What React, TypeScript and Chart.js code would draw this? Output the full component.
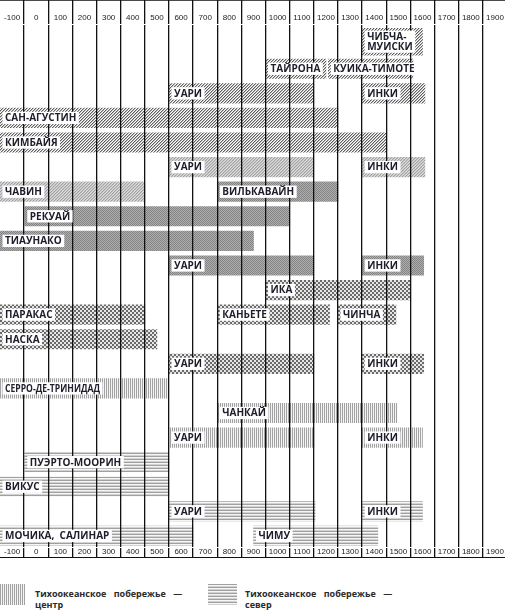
import React, { useEffect, useRef } from "react";
import { Chart, registerables } from "chart.js";

Chart.register(...registerables);

// ---- axis (centuries) ----
const AXIS_MIN = -100;
const AXIS_MAX = 2000;
const CENTURY = 100;

// ---- bars ----
const bandNames = [
  "ЧИБЧА-\nМУИСКИ", "ТАЙРОНА", "КУИКА-ТИМОТЕ", "УАРИ", "ИНКИ", "САН-АГУСТИН", "КИМБАЙЯ",
  "УАРИ", "ИНКИ", "ЧАВИН",
  "ВИЛЬКАВАЙН", "РЕКУАЙ", "ТИАУНАКО", "УАРИ", "ИНКИ",
  "ИКА", "ПАРАКАС", "КАНЬЕТЕ", "ЧИНЧА", "НАСКА", "УАРИ", "ИНКИ",
  "СЕРРО-ДЕ-ТРИНИДАД", "ЧАНКАЙ", "УАРИ", "ИНКИ",
  "ПУЭРТО-МООРИН", "ВИКУС", "УАРИ", "ИНКИ", "МОЧИКА,  САЛИНАР", "ЧИМУ",
];
const bandRows = [
  0.9, 2, 2, 3, 3, 4, 5,
  6, 6, 7,
  7, 8, 9, 10, 10,
  11, 12, 12, 12, 13, 14, 14,
  15, 16, 17, 17,
  18, 19, 20, 20, 21, 21,
];
const bandStarts = [
  1400, 1000, 1260, 600, 1400, -100, -100,
  600, 1400, -100,
  800, 0, -100, 600, 1400,
  1000, -100, 800, 1300, -100, 600, 1400,
  -100, 800, 600, 1400,
  0, -100, 600, 1400, -100, 950,
];
const bandEnds = [
  1650, 1250, 1610, 1200, 1660, 1300, 1500,
  1200, 1660, 500,
  1300, 1100, 950, 1200, 1655,
  1600, 500, 1265, 1540, 550, 1200, 1655,
  600, 1545, 1200, 1650,
  600, 600, 1205, 1650, 700, 1465,
];
const bandRegions = [
  "north", "north", "north", "north", "north", "north", "north",
  "highN", "highN", "highN",
  "highS", "highS", "highS", "highS", "highS",
  "coastS", "coastS", "coastS", "coastS", "coastS", "coastS", "coastS",
  "coastC", "coastC", "coastC", "coastC",
  "coastN", "coastN", "coastN", "coastN", "coastN", "coastN",
];
const DOUBLE_ROW = 0.9;
const ROW_MIN = 0.2;
const ROW_MAX = 21.45;
const narrowLabels = ["СЕРРО-ДЕ-ТРИНИДАД"];

const legendItems = [
  { region: "coastC", text: "Тихоокеанское побережье —\nцентр" },
  { region: "coastN", text: "Тихоокеанское побережье —\nсевер" },
];

function makePattern(kind: string): CanvasPattern | string {
  const c = document.createElement("canvas");
  const g = c.getContext("2d");
  if (!g) return "#bbb";
  const put = (x: number, y: number, col: string) => {
    g.fillStyle = col;
    g.fillRect(x, y, 1, 1);
  };
  if (kind === "north" || kind === "highN") {
    c.width = 3;
    c.height = 3;
    const cols =
      kind === "north" ? ["#bdbdbd", "#ffffff", "#5e5e5e"] : ["#c6c6c6", "#dadada", "#a2a2a2"];
    for (let x = 0; x < 3; x++) for (let y = 0; y < 3; y++) put(x, y, cols[(x + y) % 3]);
  } else if (kind === "highS") {
    c.width = 2;
    c.height = 2;
    for (let x = 0; x < 2; x++) for (let y = 0; y < 2; y++) put(x, y, (x + y) % 2 ? "#b0b0b0" : "#828282");
  } else if (kind === "coastS") {
    c.width = 4;
    c.height = 4;
    for (let x = 0; x < 4; x++)
      for (let y = 0; y < 4; y++) put(x, y, (Math.floor(x / 2) + Math.floor(y / 2)) % 2 ? "#e6e6e6" : "#6a6a6a");
  } else if (kind === "coastC") {
    c.width = 2;
    c.height = 1;
    put(0, 0, "#a2a2a2");
    put(1, 0, "#f4f4f4");
  } else {
    c.width = 1;
    c.height = 3;
    put(0, 0, "#a0a0a0");
    put(0, 1, "#f6f6f6");
    put(0, 2, "#d2d2d2");
  }
  return g.createPattern(c, "repeat") || "#bbb";
}

const swatchCss: Record<string, string> = {
  coastC: "repeating-linear-gradient(90deg, #a2a2a2 0px, #a2a2a2 1px, #f4f4f4 1px, #f4f4f4 2px)",
  coastN:
    "repeating-linear-gradient(180deg, #a0a0a0 0px, #a0a0a0 1px, #f6f6f6 1px, #f6f6f6 2px, #d2d2d2 2px, #d2d2d2 3px)",
};

const LABEL_FONT = 'bold 10px "Open Sans", "DejaVu Sans", sans-serif';

const labelPlugin = {
  id: "bandLabels",
  afterDraw(chart: any) {
    const ctx = chart.ctx as CanvasRenderingContext2D;
    ctx.save();
    ctx.font = LABEL_FONT;
    ctx.textBaseline = "middle";
    ctx.textAlign = "left";
    chart.data.datasets.forEach((ds: any, di: number) => {
      const meta = chart.getDatasetMeta(di);
      meta.data.forEach((el: any, j: number) => {
        const item = ds.data[j];
        const p = el.getProps(["x", "y", "base"], true);
        const left = Math.min(p.x, p.base);
        const lines: string[] = item.name.split("\n");
        const squeeze = narrowLabels.includes(item.name) ? 0.86 : 1;
        const widths = lines.map((l) => ctx.measureText(l).width * squeeze);
        const w = Math.max(...widths);
        const lh = 9.8;
        const boxH = lines.length * lh + 2.5;
        const bx = left + 2.5;
        const by = p.y - boxH / 2;
        ctx.fillStyle = "#ffffff";
        ctx.fillRect(bx, by, w + 5, boxH);
        ctx.fillStyle = "#1d1d2b";
        lines.forEach((l, k) => {
          ctx.fillText(l, bx + 2.5, by + 1.25 + lh * k + lh / 2 + 0.5, widths[k] + 0.01);
        });
      });
    });
    const xb = chart.scales.x2;
    ctx.strokeStyle = "#111";
    ctx.lineWidth = 1;
    ctx.beginPath();
    ctx.moveTo(xb.left, xb.bottom - 0.5);
    ctx.lineTo(xb.right, xb.bottom - 0.5);
    ctx.stroke();
    ctx.restore();
  },
};

export default function App() {
  const ref = useRef<HTMLCanvasElement>(null);

  useEffect(() => {
    const canvas = ref.current;
    if (!canvas) return;
    const patterns: Record<string, CanvasPattern | string> = {};
    Array.from(new Set(bandRegions)).forEach((k) => (patterns[k] = makePattern(k)));

    const groups: { region: string; tall: boolean; items: any[] }[] = [];
    bandNames.forEach((name, i) => {
      const tall = bandRows[i] === DOUBLE_ROW;
      let g = groups.find((q) => q.region === bandRegions[i] && q.tall === tall);
      if (!g) {
        g = { region: bandRegions[i], tall, items: [] };
        groups.push(g);
      }
      g.items.push({ x: [bandStarts[i], bandEnds[i]], y: bandRows[i], name });
    });

    const datasets = groups.map((g) => ({
      label: g.region,
      data: g.items,
      backgroundColor: patterns[g.region],
      borderWidth: 0,
      barThickness: g.tall ? 27 : 19.5,
      stack: "all",
      grouped: true,
    }));

    const isCenturyLine = (v: number) => Math.round(v) % CENTURY === 0 && v > AXIS_MIN && v < AXIS_MAX;
    const gridColor = (c: any) => (c.tick && isCenturyLine(c.tick.value) ? "#111111" : "rgba(0,0,0,0)");
    const tickLabel = (v: any) => {
      const n = Math.round(Number(v));
      return (n - AXIS_MIN) % CENTURY === CENTURY / 2 ? String(n - CENTURY / 2) : "";
    };
    const tickFont = { family: '"Liberation Sans Narrow", "Liberation Sans", Arial, sans-serif', size: 8 };

    const chart = new Chart(canvas, {
      type: "bar",
      data: { datasets: datasets as any },
      plugins: [labelPlugin as any],
      options: {
        animation: false,
        responsive: false,
        indexAxis: "y",
        layout: { padding: 0 },
        plugins: { legend: { display: false }, tooltip: { enabled: false } },
        scales: {
          x: {
            type: "linear",
            position: "top",
            min: AXIS_MIN,
            max: AXIS_MAX,
            stacked: false,
            afterFit: (s: any) => {
              s.height = 24.5;
            },
            grid: {
              color: gridColor,
              lineWidth: 1.3,
              drawOnChartArea: true,
              drawTicks: true,
              tickLength: 24.5,
              z: 1,
            },
            border: { display: true, color: "#111", width: 1 },
            ticks: {
              stepSize: 50,
              autoSkip: false,
              maxRotation: 0,
              minRotation: 0,
              padding: -22.1,
              callback: tickLabel,
              color: "#222",
              font: tickFont,
            },
          } as any,
          x2: {
            type: "linear",
            axis: "x",
            position: "bottom",
            min: AXIS_MIN,
            max: AXIS_MAX,
            afterFit: (s: any) => {
              s.height = 11;
            },
            grid: {
              color: gridColor,
              lineWidth: 1.3,
              drawOnChartArea: false,
              drawTicks: true,
              tickLength: 11,
              z: 1,
            },
            border: { display: true, color: "#111", width: 1 },
            ticks: {
              stepSize: 50,
              autoSkip: false,
              maxRotation: 0,
              minRotation: 0,
              padding: -10.8,
              callback: tickLabel,
              color: "#222",
              font: tickFont,
            },
          } as any,
          y: {
            type: "linear",
            reverse: true,
            min: ROW_MIN,
            max: ROW_MAX,
            display: false,
            offset: false,
            grid: { display: false },
          } as any,
        },
      },
    });
    return () => chart.destroy();
  }, []);

  return (
    <div
      style={{
        position: "fixed",
        left: 0,
        top: 0,
        width: 505,
        height: 615,
        overflow: "hidden",
        background: "#fff",
      }}
    >
      <canvas ref={ref} width={507} height={558} style={{ position: "absolute", left: 0, top: 0 }} />
      {legendItems.map((it, i) => (
        <div key={i}>
          <div
            style={{
              position: "absolute",
              left: i === 0 ? 0 : 208,
              top: 584,
              width: i === 0 ? 25 : 29,
              height: 21,
              background: swatchCss[it.region],
            }}
          />
          <div
            style={{
              position: "absolute",
              left: i === 0 ? 35 : 245,
              top: 587.5,
              font: 'bold 9px "Open Sans", sans-serif',
              lineHeight: "11px",
              wordSpacing: 5,
              color: "#2a2a2a",
              whiteSpace: "pre",
            }}
          >
            {it.text}
          </div>
        </div>
      ))}
    </div>
  );
}
